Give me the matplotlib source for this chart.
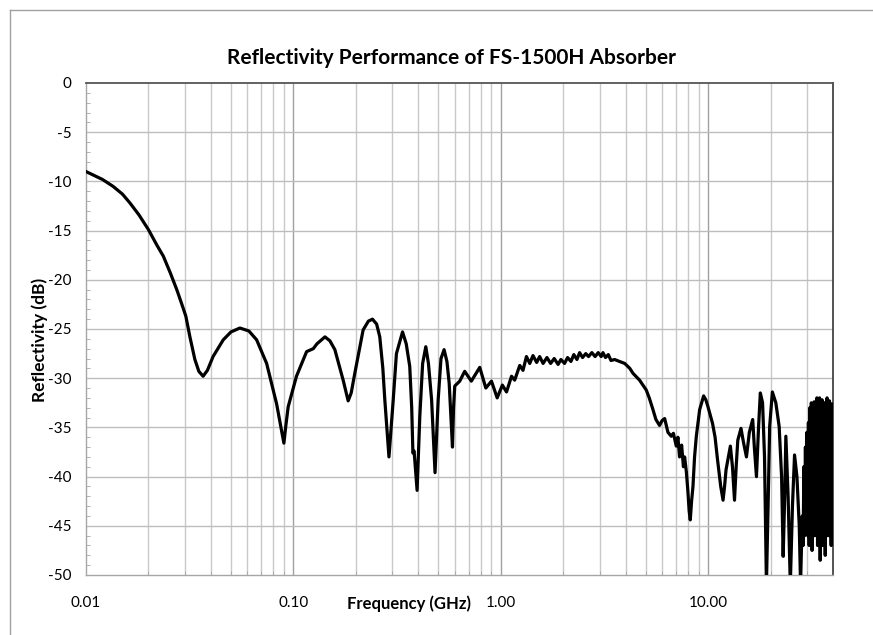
import matplotlib
matplotlib.use("Agg")
import matplotlib.pyplot as plt
from matplotlib.ticker import FixedLocator, NullFormatter
from matplotlib.lines import Line2D

plt.rcParams['font.family'] = ['Lato', 'DejaVu Sans']
plt.rcParams['path.simplify'] = False

title = "Reflectivity Performance of FS-1500H Absorber"
xlabel = "Frequency (GHz)"
ylabel = "Reflectivity (dB)"

x_ticks = [0.01, 0.1, 1.0, 10.0]
x_ticklabels = ["0.01", "0.10", "1.00", "10.00"]
y_ticks = [0, -5, -10, -15, -20, -25, -30, -35, -40, -45, -50]

freq_low = [0.0100, 0.0120, 0.0135, 0.0150, 0.0163, 0.0180, 0.0200, 0.0220, 0.0236, 0.0255,
            0.0274, 0.0290, 0.0303, 0.0317, 0.0335, 0.0350, 0.0367, 0.0385, 0.0410, 0.0459,
            0.0500, 0.0552, 0.0610, 0.0665, 0.0743, 0.0830, 0.0880, 0.0900, 0.0920, 0.0944,
            0.1035, 0.1158, 0.1247, 0.1300, 0.1420, 0.1500, 0.1585, 0.1738, 0.1837, 0.1900,
            0.1978, 0.2169, 0.2300, 0.2406, 0.2520, 0.2610, 0.2700, 0.2760, 0.2890, 0.3030,
            0.3140, 0.3360, 0.3500, 0.3640, 0.3720, 0.3770, 0.3820, 0.3950, 0.4070, 0.4200,
            0.4350, 0.4480, 0.4640, 0.4820, 0.4990, 0.5150, 0.5330, 0.5500, 0.5640, 0.5850,
            0.5920, 0.6000, 0.6340, 0.6700, 0.7210, 0.7920, 0.8470, 0.9020, 0.9610]
refl_low = [-9.0, -9.8, -10.5, -11.3, -12.2, -13.4, -14.9, -16.5, -17.6, -19.3,
            -21.0, -22.5, -23.7, -25.8, -28.1, -29.3, -29.8, -29.2, -27.8, -26.1,
            -25.3, -24.9, -25.2, -26.1, -28.5, -32.6, -35.5, -36.6, -34.8, -32.9,
            -29.8, -27.3, -27.0, -26.5, -25.8, -26.2, -27.1, -30.2, -32.3, -31.5,
            -29.5, -25.1, -24.2, -24.0, -24.5, -25.8, -29.0, -32.2, -38.0, -32.2,
            -27.5, -25.3, -26.5, -28.8, -33.0, -37.6, -37.4, -41.4, -33.9, -28.5,
            -26.8, -28.5, -32.2, -39.6, -32.2, -28.0, -27.1, -28.3, -30.5, -37.0,
            -33.0, -30.8, -30.3, -29.3, -30.3, -28.9, -31.0, -30.3, -32.0]

freq_mid = [1.018, 1.066, 1.127, 1.167, 1.235, 1.280, 1.330, 1.380, 1.430, 1.490,
            1.540, 1.600, 1.670, 1.740, 1.810, 1.890, 1.950, 2.030, 2.100, 2.180,
            2.250, 2.330, 2.400, 2.480, 2.570, 2.650, 2.750, 2.850, 2.950, 3.050,
            3.110, 3.200, 3.300, 3.400, 3.540, 3.740, 3.960, 4.190, 4.340, 4.670,
            5.030, 5.200, 5.420, 5.600, 5.830, 6.000, 6.170, 6.400, 6.640, 6.800,
            7.020, 7.150, 7.280, 7.450, 7.600, 7.700, 7.850, 7.980, 8.100, 8.200,
            8.320, 8.450, 8.600, 8.770, 9.100, 9.510, 9.750, 9.980]
refl_mid = [-30.7, -31.4, -29.8, -30.2, -28.7, -29.2, -27.8, -28.5, -27.7, -28.4,
            -27.8, -28.5, -27.9, -28.5, -28.0, -28.6, -28.1, -28.5, -27.9, -28.3,
            -27.6, -28.1, -27.4, -27.9, -27.5, -27.8, -27.4, -27.8, -27.4, -27.8,
            -27.4, -27.9, -27.6, -28.2, -28.1, -28.3, -28.5, -29.0, -29.5, -30.2,
            -31.2, -32.0, -33.2, -34.2, -34.8, -34.3, -34.1, -35.5, -35.9, -35.6,
            -36.9, -36.0, -38.0, -36.8, -39.0, -38.0, -39.5, -41.4, -43.5, -44.4,
            -42.5, -41.0, -38.0, -35.9, -33.2, -31.8, -32.2, -32.9]

freq_high = [10.50, 10.80, 11.10, 11.50, 11.80, 12.00, 12.20, 12.80, 13.10, 13.40,
             13.65, 13.90, 14.40, 14.80, 15.30, 15.80, 16.40, 16.70, 17.10, 17.50,
             17.85, 18.30, 18.70, 19.10, 19.50, 19.80, 20.40, 21.20, 22.00, 22.60,
             23.00, 23.40, 23.70, 24.30, 24.90, 25.50, 26.10, 26.80, 27.50, 27.90]
refl_high = [-34.6, -36.0, -38.3, -41.0, -42.4, -41.0, -39.3, -36.9, -39.0, -42.4,
             -39.0, -36.3, -35.1, -36.5, -38.0, -35.5, -34.2, -37.0, -40.0, -35.0,
             -31.5, -32.5, -38.0, -51.0, -42.0, -34.9, -31.4, -32.5, -34.9, -40.0,
             -48.1, -42.0, -35.9, -42.0, -51.0, -43.0, -37.8, -40.0, -45.0, -51.0]

freq_dense = [28.20, 28.45, 28.70, 28.95, 29.20, 29.45, 29.70, 29.95, 30.20, 30.45,
              30.70, 30.95, 31.20, 31.45, 31.70, 31.95, 32.20, 32.45, 32.70, 32.95,
              33.20, 33.45, 33.70, 33.95, 34.20, 34.45, 34.70, 34.95, 35.20, 35.45,
              35.70, 35.95, 36.20, 36.45, 36.70, 36.95, 37.20, 37.45, 37.70, 37.95,
              38.20, 38.45, 38.70, 38.95, 39.20, 39.45, 39.70, 39.95]
refl_dense = [-47.0, -44.0, -47.0, -39.0, -46.0, -37.0, -45.0, -35.5, -46.0, -34.5,
              -47.0, -33.0, -45.0, -32.5, -47.5, -33.0, -44.0, -32.4, -46.0, -33.5,
              -44.0, -32.0, -47.0, -33.0, -45.0, -32.0, -48.5, -33.0, -45.0, -32.2,
              -47.0, -33.5, -44.0, -32.5, -48.0, -33.0, -45.0, -32.0, -46.0, -33.0,
              -44.0, -32.3, -46.0, -33.0, -47.0, -32.6, -44.0, -34.0]

freq = freq_low + freq_mid + freq_high + freq_dense
refl = refl_low + refl_mid + refl_high + refl_dense

W, H = 873, 635
fig = plt.figure(figsize=(W / 100, H / 100), dpi=100)
ax = fig.add_axes([86 / W, 1 - 575 / H, (833 - 86) / W, (575 - 83) / H])

ax.set_xscale('log')
ax.set_xlim(0.01, 40)
ax.set_ylim(-50, 0)

# gridlines
minor_x = [m * 10.0 ** e for e in (-2, -1, 0, 1) for m in range(2, 10) if m * 10.0 ** e < 40]
for v in minor_x:
    ax.axvline(v, color='#c9c9c9', lw=1.0, zorder=1)
for v in x_ticks[1:]:
    ax.axvline(v, color='#a0a0a0', lw=1.0, zorder=1)
for v in y_ticks[1:-1]:
    ax.axhline(v, color='#bdbdbd', lw=1.0, zorder=1)

ax.plot(freq, refl, color='black', lw=2.3, zorder=3, solid_joinstyle='round')

ax.set_xticks(x_ticks)
ax.set_xticklabels(x_ticklabels)
ax.xaxis.set_minor_locator(FixedLocator(minor_x))
ax.xaxis.set_minor_formatter(NullFormatter())
ax.set_yticks(y_ticks)
ax.set_yticklabels([str(v) for v in y_ticks])
ax.yaxis.set_minor_locator(FixedLocator([v for v in range(-49, 0)]))

ax.tick_params(axis='x', which='major', length=0, pad=15, labelsize=11, colors='#000000')
ax.tick_params(axis='x', which='minor', direction='in', length=3, color='#a6a6a6')
ax.tick_params(axis='y', which='major', length=0, pad=10.5, labelsize=11)
ax.tick_params(axis='y', which='minor', direction='in', length=3, color='#a6a6a6')

for s in ('left', 'bottom'):
    ax.spines[s].set_color('#a6a6a6')
    ax.spines[s].set_linewidth(1.0)
ax.spines['top'].set_color('#555555')
ax.spines['top'].set_linewidth(1.3)
ax.spines['right'].set_color('#444444')
ax.spines['right'].set_linewidth(1.3)

fig.text(451 / W, 1 - 58 / H, title, ha='center', va='center', fontsize=15, fontweight='bold')
fig.text(409 / W, 1 - 604 / H, xlabel, ha='center', va='center', fontsize=12, fontweight='bold')
fig.text(40 / W, 1 - 340 / H, ylabel, ha='center', va='center', rotation=90, fontsize=12.5, fontweight='bold')

# chart-area border
fig.add_artist(Line2D([10 / W, 10 / W], [1 - 10 / H, 0], color='#a0a0a0', lw=1.0))
fig.add_artist(Line2D([10 / W, 1], [1 - 10 / H, 1 - 10 / H], color='#a0a0a0', lw=1.0))

fig.savefig('out.png', dpi=100)
